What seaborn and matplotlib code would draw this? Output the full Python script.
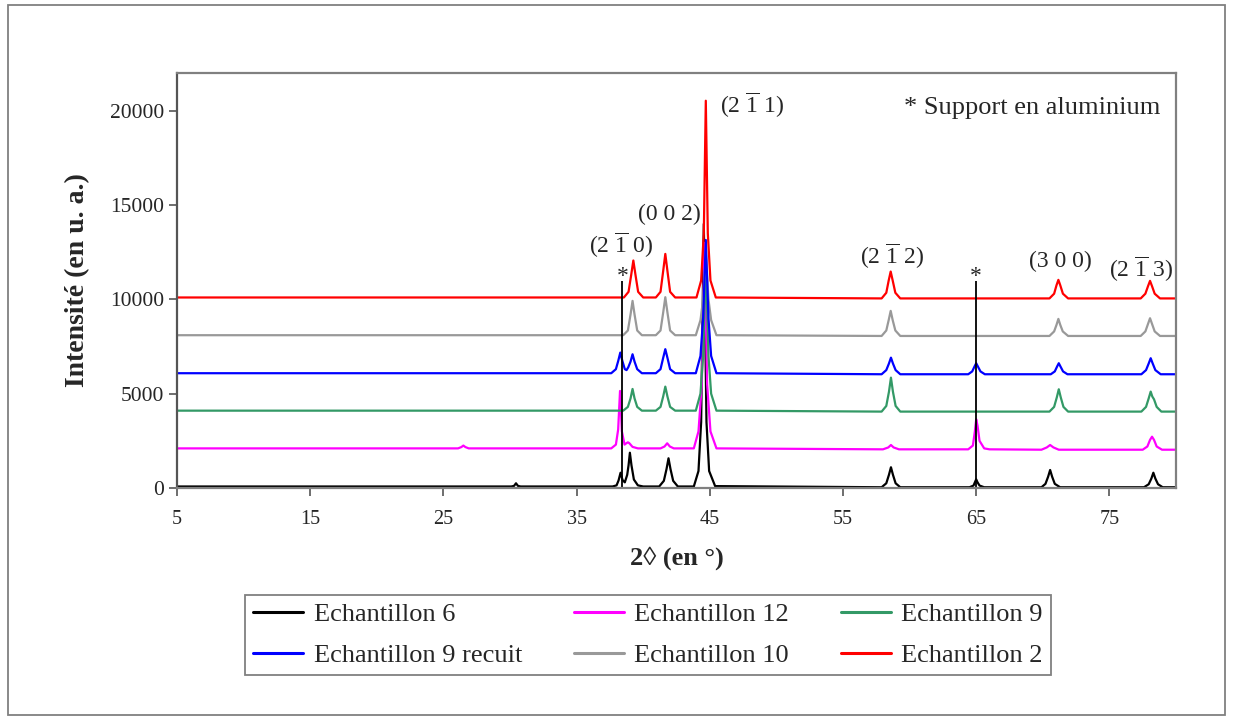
import pandas as pd
import matplotlib
matplotlib.use("Agg")
import matplotlib.pyplot as plt
import seaborn as sns
from matplotlib.patches import Rectangle

# spectra: (2theta in deg, intensity in u. a.)
ech6 = [(5, 80), (30.1, 80), (30.3, 110), (30.45, 250), (30.6, 110), (30.8, 80),
        (37.7, 80), (38.0, 140), (38.15, 400), (38.3, 810), (38.45, 420), (38.62, 300),
        (38.8, 700), (38.9, 1200), (39.0, 1870), (39.12, 1200), (39.3, 450), (39.6, 140), (40.0, 80),
        (41.2, 80), (41.55, 380), (41.75, 1000), (41.9, 1575), (42.05, 1000), (42.25, 380), (42.6, 80),
        (43.8, 80), (44.15, 900), (44.35, 3500), (44.55, 14000), (44.75, 3500), (44.95, 900), (45.4, 100),
        (57.9, 40), (58.25, 250), (58.45, 700), (58.6, 1100), (58.75, 700), (58.95, 250), (59.3, 40),
        (64.5, 40), (64.8, 130), (64.9, 300), (65.0, 460), (65.1, 300), (65.25, 130), (65.6, 40),
        (69.9, 40), (70.2, 220), (70.4, 600), (70.55, 955), (70.7, 600), (70.9, 220), (71.3, 40),
        (77.6, 40), (77.95, 200), (78.15, 500), (78.3, 810), (78.45, 500), (78.65, 200), (79.0, 40),
        (80, 40)]

ech12 = [(5, 2100), (26.1, 2100), (26.35, 2170), (26.5, 2250), (26.65, 2170), (26.9, 2100),
         (37.6, 2100), (37.95, 2300), (38.12, 3100), (38.26, 5145), (38.4, 3000), (38.6, 2300),
         (38.75, 2380), (38.85, 2420), (38.95, 2380), (39.2, 2180), (39.6, 2100),
         (41.3, 2100), (41.6, 2200), (41.8, 2370), (42.0, 2200), (42.3, 2100),
         (43.8, 2100), (44.15, 3000), (44.4, 5500), (44.6, 13000), (44.8, 5500), (45.05, 3000), (45.5, 2100),
         (58.0, 2050), (58.4, 2150), (58.6, 2280), (58.8, 2150), (59.2, 2050),
         (64.4, 2050), (64.75, 2250), (64.9, 3000), (65.0, 3645), (65.1, 3300), (65.25, 2500),
         (65.6, 2100), (66.0, 2050),
         (69.9, 2030), (70.3, 2150), (70.55, 2280), (70.8, 2150), (71.2, 2030),
         (77.5, 2030), (77.85, 2200), (78.05, 2550), (78.2, 2720), (78.35, 2550), (78.55, 2200), (78.95, 2030),
         (80, 2030)]

ech9 = [(5, 4100), (38.5, 4100), (38.85, 4300), (39.05, 4750), (39.2, 5250), (39.35, 4750), (39.55, 4300), (39.9, 4100),
        (40.95, 4100), (41.3, 4300), (41.5, 4850), (41.66, 5375), (41.82, 4850), (42.02, 4300), (42.4, 4100),
        (43.95, 4100), (44.3, 5000), (44.5, 7000), (44.7, 12000), (44.9, 7000), (45.1, 5000), (45.5, 4100),
        (57.9, 4050), (58.25, 4350), (58.45, 5100), (58.6, 5850), (58.75, 5100), (58.95, 4350), (59.3, 4050),
        (70.5, 4050), (70.85, 4300), (71.05, 4800), (71.2, 5235), (71.35, 4800), (71.55, 4300), (71.9, 4050),
        (77.4, 4050), (77.75, 4300), (77.95, 4750), (78.1, 5110), (78.22, 4850), (78.35, 4700),
        (78.55, 4300), (78.9, 4050), (80, 4050)]

ech9r = [(5, 6085), (37.6, 6085), (37.95, 6300), (38.13, 6750), (38.28, 7180), (38.43, 6750), (38.62, 6300),
         (38.75, 6250), (38.88, 6400), (39.05, 6700), (39.2, 7090), (39.35, 6700), (39.55, 6300), (39.9, 6085),
         (40.95, 6085), (41.3, 6300), (41.5, 6900), (41.66, 7360), (41.82, 6900), (42.02, 6300), (42.4, 6085),
         (43.95, 6085), (44.3, 7000), (44.5, 9000), (44.7, 13150), (44.9, 9000), (45.1, 7000), (45.5, 6085),
         (57.9, 6030), (58.25, 6250), (58.45, 6600), (58.6, 6910), (58.75, 6600), (58.95, 6250), (59.3, 6030),
         (64.4, 6030), (64.7, 6180), (64.88, 6450), (65.0, 6615), (65.12, 6450), (65.32, 6180), (65.65, 6030),
         (70.6, 6030), (70.9, 6180), (71.08, 6450), (71.2, 6615), (71.32, 6450), (71.52, 6180), (71.85, 6030),
         (77.4, 6030), (77.75, 6250), (77.95, 6600), (78.1, 6880), (78.25, 6600), (78.45, 6250), (78.85, 6030),
         (80, 6030)]

ech10 = [(5, 8100), (38.5, 8100), (38.85, 8350), (39.05, 9200), (39.2, 9920), (39.35, 9200), (39.55, 8350), (39.9, 8100),
         (40.95, 8100), (41.3, 8350), (41.5, 9300), (41.66, 10115), (41.82, 9300), (42.02, 8350), (42.4, 8100),
         (43.95, 8100), (44.3, 8900), (44.5, 10000), (44.7, 12500), (44.9, 10000), (45.1, 8900), (45.5, 8100),
         (57.9, 8060), (58.25, 8350), (58.43, 8900), (58.58, 9390), (58.73, 8900), (58.93, 8350), (59.3, 8060),
         (70.5, 8060), (70.85, 8300), (71.03, 8650), (71.17, 8965), (71.31, 8650), (71.5, 8300), (71.9, 8060),
         (77.35, 8060), (77.7, 8300), (77.9, 8700), (78.05, 9000), (78.2, 8700), (78.4, 8300), (78.8, 8060),
         (80, 8060)]

ech2 = [(5, 10100), (38.55, 10100), (38.9, 10400), (39.1, 11300), (39.26, 12060), (39.42, 11300), (39.62, 10400), (40.0, 10100),
        (40.95, 10100), (41.3, 10400), (41.5, 11500), (41.66, 12410), (41.82, 11500), (42.02, 10400), (42.4, 10100),
        (44.0, 10100), (44.35, 11000), (44.55, 13500), (44.7, 20530), (44.85, 13500), (45.05, 11000), (45.45, 10100),
        (57.9, 10050), (58.25, 10350), (58.43, 11000), (58.58, 11475), (58.73, 11000), (58.93, 10350), (59.3, 10050),
        (70.5, 10050), (70.85, 10300), (71.03, 10750), (71.17, 11034), (71.31, 10750), (71.51, 10300), (71.9, 10050),
        (77.35, 10050), (77.7, 10300), (77.9, 10700), (78.05, 10981), (78.2, 10700), (78.4, 10300), (78.8, 10050),
        (80, 10050)]

names = ["Echantillon 6", "Echantillon 12", "Echantillon 9",
         "Echantillon 9 recuit", "Echantillon 10", "Echantillon 2"]
colors = ["#000000", "#FF00FF", "#339966", "#0000FF", "#999999", "#FF0000"]
spectra = [ech6, ech12, ech9, ech9r, ech10, ech2]

# aluminium support lines and reflection labels
alu_pos = [38.43, 65.0]
alu_top = 11000
hkl_labels = [r"(2 $\overline{\mathrm{1}}$ 0)", "(0 0 2)", r"(2 $\overline{\mathrm{1}}$ 1)",
              r"(2 $\overline{\mathrm{1}}$ 2)", "(3 0 0)", r"(2 $\overline{\mathrm{1}}$ 3)"]
hkl_x = [38.3, 42.0, 45.8, 58.7, 71.3, 77.35]
hkl_y = [12900, 14500, 20300, 12300, 12000, 11600]
hkl_ha = ["center", "center", "left", "center", "center", "center"]

sns.set_style("white")
plt.rcParams["font.family"] = ["Liberation Serif", "DejaVu Serif"]
plt.rcParams["mathtext.fontset"] = "custom"
plt.rcParams["mathtext.rm"] = "Liberation Serif"

fig = plt.figure(figsize=(12.33, 7.2), dpi=100)
ax = fig.add_axes([177 / 1233, 1 - 488 / 720, 999 / 1233, 415 / 720])

# gray goes under blue, as in the picture
draw_order = [0, 1, 2, 4, 3, 5]
for i in draw_order:
    d = pd.DataFrame(spectra[i], columns=["theta", "I"])
    sns.lineplot(data=d, x="theta", y="I", color=colors[i], estimator=None, sort=False,
                 linewidth=1.6, ax=ax)

ax.vlines(alu_pos, 0, alu_top, color="black", linewidth=1.3)
for p in alu_pos:
    ax.text(p, alu_top - 100, "*", ha="center", va="baseline", fontsize=17)

for lab, x, y, ha in zip(hkl_labels, hkl_x, hkl_y, hkl_ha):
    ax.text(x, y, lab, ha=ha, va="center", fontsize=17)

ax.text(78.8, 20150, "* Support en aluminium", ha="right", va="center", fontsize=19)

ax.set_xlim(5, 80)
ax.set_ylim(0, 22000)
ax.set_xticks(range(5, 80, 10))
ax.set_yticks(range(0, 20001, 5000))
ax.tick_params(axis="both", direction="out", length=6, width=1.2, color="#555555",
               labelsize=14.5, left=True, bottom=True)
ax.tick_params(axis="y", labelsize=15.5)
ax.tick_params(axis="x", pad=10)
ax.set_xlabel("2\u25ca (en \u00b0)", fontsize=19, fontweight="bold", labelpad=12)
ax.set_ylabel("Intensit\u00e9 (en u. a.)", fontsize=20, fontweight="bold", labelpad=14)
for s in ax.spines.values():
    s.set_color("#808080")
    s.set_linewidth(1.6)
ax.spines["left"].set_color("#555555")

# legend filled column by column, so reorder to get rows 6/12/9 and 9 recuit/10/2
leg_order = [0, 3, 1, 4, 2, 5]
handles = [plt.Line2D([], [], color=colors[i], linewidth=2.2) for i in leg_order]
labels = [names[i] for i in leg_order]
leg = fig.legend(handles, labels, ncol=3, loc="center", bbox_to_anchor=(0.5255, 0.118),
                 fontsize=19, frameon=True, fancybox=False, edgecolor="#808080",
                 framealpha=1, handlelength=1.9, handletextpad=0.4, columnspacing=1.95,
                 labelspacing=0.65, borderpad=0.3)
leg.get_frame().set_linewidth(1.3)

fig.patches.append(Rectangle((8 / 1233, 5 / 720), 1217 / 1233, 710 / 720,
                             transform=fig.transFigure, fill=False,
                             edgecolor="#808080", linewidth=1.3))

fig.savefig("out.png", dpi=100)
